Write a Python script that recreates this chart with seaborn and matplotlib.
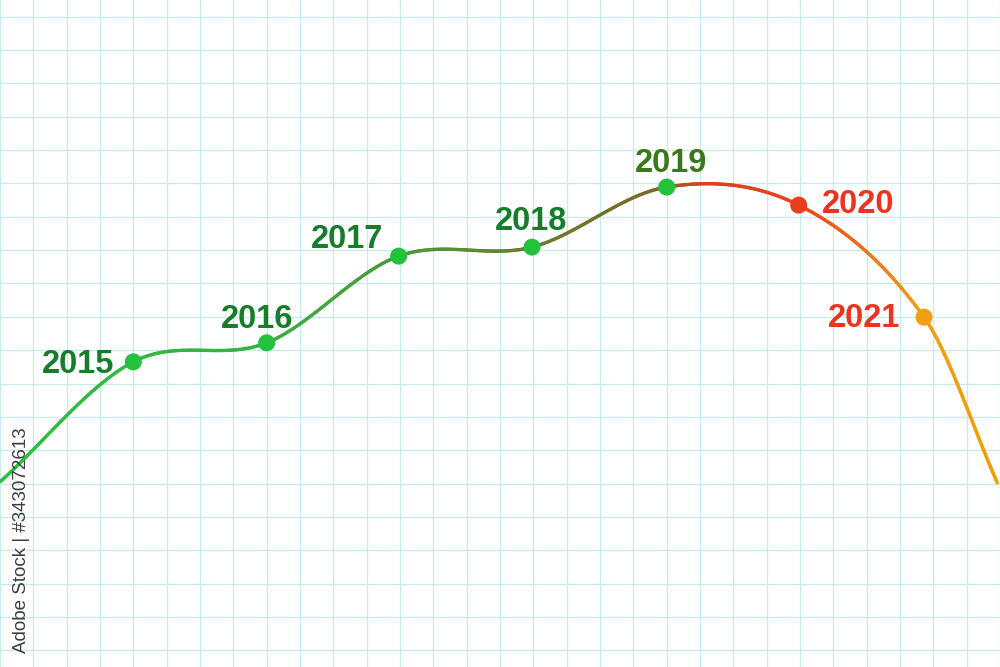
import numpy as np
import pandas as pd
import matplotlib
matplotlib.use("Agg")
import matplotlib.pyplot as plt
import seaborn as sns
from matplotlib.collections import LineCollection
from matplotlib.colors import LinearSegmentedColormap

# values (x = year position, y = height in grid cells)
years = ["2015", "2016", "2017", "2018", "2019", "2020", "2021"]
year_pos = [2015.0, 2016.0, 2016.99, 2017.99, 2019.0, 2019.99, 2020.93]
values = [9.15, 9.72, 12.32, 12.59, 14.39, 13.85, 10.49]
curve_start = (2014.0, 5.55)
curve_end = (2021.48, 5.52)

point_colors = ["#22c23c", "#22c23c", "#22c23c", "#22c23c", "#22c23c", "#e8401e", "#f0a012"]
label_colors = ["#167d2a", "#167d2a", "#167d2a", "#167d2a", "#3a781c", "#ec3320", "#ec3320"]
# label offsets in points (dx, dy), alignment
label_offsets = [(-14, -8, "right"), (-7, 11, "center"), (-37, 6, "center"),
                 (-1, 12, "center"), (3, 11, "center"), (17, -6, "left"), (-17, -7, "right")]

sns.set_style("white", {"grid.color": "#c4ebee", "axes.grid": True})
plt.rcParams["font.family"] = ["Liberation Sans", "DejaVu Sans"]

fig = plt.figure(figsize=(10, 6.67), dpi=100)
ax = fig.add_axes([0, 0, 1, 1])
ax.set_xlim(2014.0, 2021.5)
ax.set_ylim(0, 20)
ax.set_xticks(np.arange(2014.0, 2021.51, 0.25))
ax.set_yticks(np.arange(0.5, 20, 1.0))
ax.tick_params(length=0, labelbottom=False, labelleft=False)
ax.grid(True, color="#c4ebee", linewidth=0.9)
for s in ax.spines.values():
    s.set_visible(False)

# smooth curve through the points (cubic hermite, finite-difference tangents)
kx = np.array([curve_start[0]] + year_pos + [curve_end[0]])
ky = np.array([curve_start[1]] + values + [curve_end[1]])
m = np.zeros_like(ky)
m[1:-1] = (ky[2:] - ky[:-2]) / (kx[2:] - kx[:-2])
m[0] = (ky[1] - ky[0]) / (kx[1] - kx[0])
m[-1] = (ky[-1] - ky[-2]) / (kx[-1] - kx[-2])
xs, ys = [], []
for i in range(len(kx) - 1):
    h = kx[i + 1] - kx[i]
    t = np.linspace(0, 1, 80, endpoint=False)
    h00 = 2 * t**3 - 3 * t**2 + 1
    h10 = t**3 - 2 * t**2 + t
    h01 = -2 * t**3 + 3 * t**2
    h11 = t**3 - t**2
    xs.append(kx[i] + t * h)
    ys.append(h00 * ky[i] + h10 * h * m[i] + h01 * ky[i + 1] + h11 * h * m[i + 1])
xs = np.concatenate(xs + [[kx[-1]]])
ys = np.concatenate(ys + [[ky[-1]]])

lo, hi = kx[0], kx[-1]
def f(x):
    return (x - lo) / (hi - lo)
cmap = LinearSegmentedColormap.from_list("trend", [
    (0.0, "#2cc043"), (f(2016.0), "#3bae46"), (f(2017.0), "#4a9b3a"),
    (f(2018.0), "#6a7c2c"), (f(2019.0), "#7a6a28"), (f(2019.25), "#d8401f"),
    (f(2020.0), "#ee421c"), (f(2020.5), "#f0701a"), (f(2020.93), "#f0a012"),
    (1.0, "#f39c00")])
pts = np.column_stack([xs, ys]).reshape(-1, 1, 2)
segs = np.concatenate([pts[:-1], pts[1:]], axis=1)
lc = LineCollection(segs, colors=cmap(f((xs[:-1] + xs[1:]) / 2)), linewidth=2.4,
                    capstyle="round", zorder=3)
ax.add_collection(lc)

df = pd.DataFrame({"year": years, "x": year_pos, "y": values})
sns.scatterplot(data=df, x="x", y="y", hue="year", palette=point_colors, s=150,
                edgecolor="none", legend=False, ax=ax, zorder=4)
ax.set_xlabel("")
ax.set_ylabel("")

for i, row in df.iterrows():
    dx, dy, ha = label_offsets[i]
    ax.annotate(row["year"], (row["x"], row["y"]), xytext=(dx, dy),
                textcoords="offset points", ha=ha, va="baseline",
                fontsize=23.5, fontweight="bold", color=label_colors[i], zorder=5)

ax.text(0.022, 0.19, "Adobe Stock | #343072613", transform=ax.transAxes,
        rotation=90, ha="center", va="center", fontsize=13.5, color="#3d3d3d")

fig.savefig("out.png", dpi=100)
